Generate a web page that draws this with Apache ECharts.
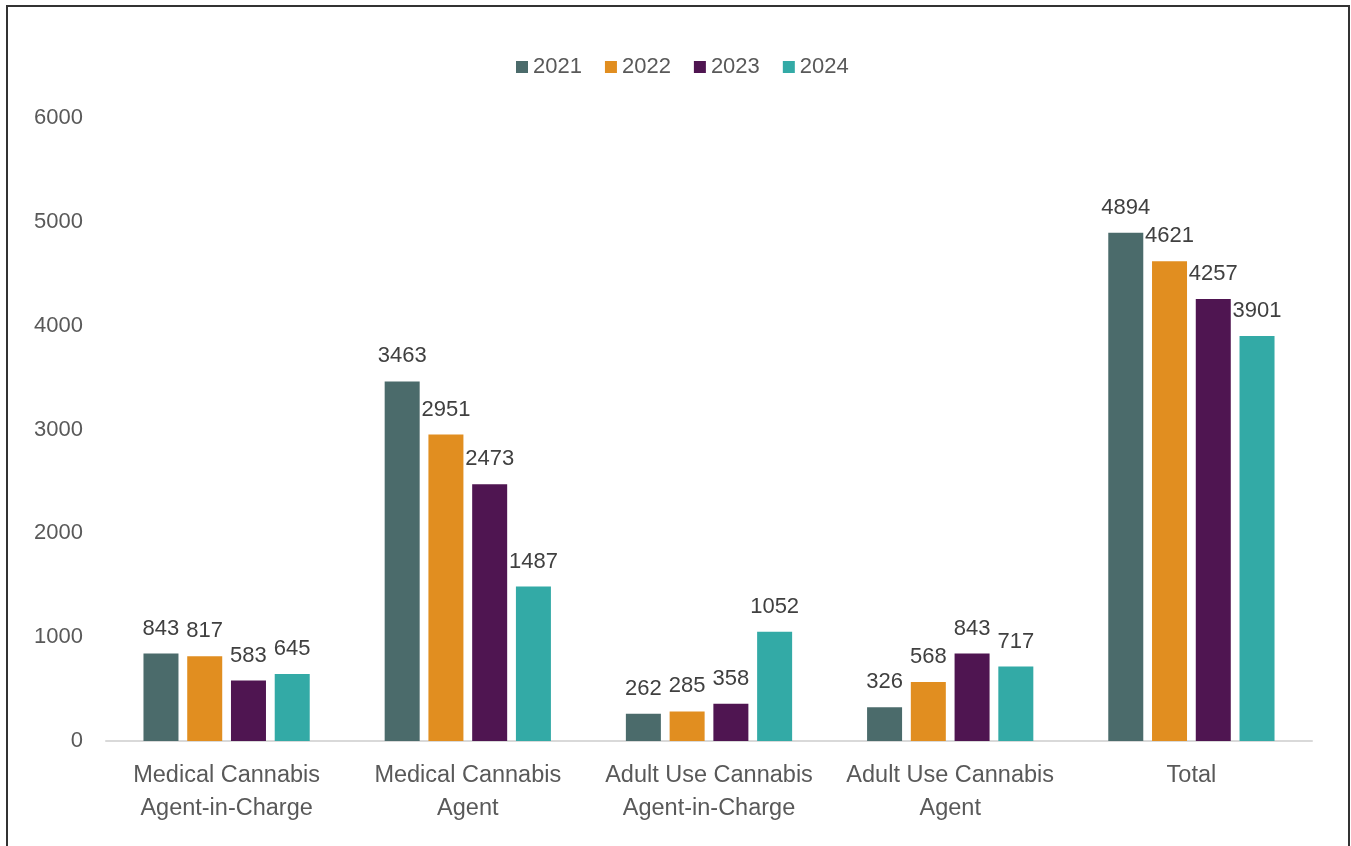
<!DOCTYPE html>
<html>
<head>
<meta charset="utf-8">
<script src="https://cdn.jsdelivr.net/npm/echarts@6/dist/echarts.min.js"></script>
<style>
html,body{margin:0;padding:0;background:#fff;overflow:hidden;}
#frame{position:absolute;left:6px;top:5px;width:1344px;height:900px;border:2px solid #333;border-bottom:none;box-sizing:border-box;}
#chart{position:absolute;left:0;top:0;width:1351px;height:846px;}
</style>
</head>
<body>
<div id="frame"></div>
<div id="chart"></div>
<script>
const categories = ["Medical Cannabis\nAgent-in-Charge", "Medical Cannabis\nAgent", "Adult Use Cannabis\nAgent-in-Charge", "Adult Use Cannabis\nAgent", "Total"];
const years = ["2021", "2022", "2023", "2024"];
const values2021 = [843, 3463, 262, 326, 4894];
const values2022 = [817, 2951, 285, 568, 4621];
const values2023 = [583, 2473, 358, 843, 4257];
const values2024 = [645, 1487, 1052, 717, 3901];
const colors = ["#4b6b6b", "#e18e20", "#4f1551", "#33aaa6"];
const yTicks = [0, 1000, 2000, 3000, 4000, 5000, 6000];

const seriesData = [values2021, values2022, values2023, values2024];
const font = "'Liberation Sans', Arial, sans-serif";

const chart = echarts.init(document.getElementById('chart'), null, {renderer: 'canvas'});
chart.setOption({
  animation: false,
  color: colors,
  textStyle: {fontFamily: font},
  legend: {
    data: years,
    top: 51,
    left: 511,
    itemWidth: 12,
    itemHeight: 12,
    itemGap: 23,
    icon: 'rect',
    textStyle: {fontSize: 22, color: '#595959', fontFamily: font}
  },
  grid: {left: 106, right: 39, top: 118, bottom: 105},
  xAxis: {
    type: 'category',
    data: categories,
    axisLine: {lineStyle: {color: '#d9d9d9', width: 2}},
    axisTick: {show: false},
    axisLabel: {fontSize: 23.5, color: '#595959', lineHeight: 33, margin: 18, fontFamily: font, interval: 0}
  },
  yAxis: {
    type: 'value',
    min: yTicks[0],
    max: yTicks[yTicks.length - 1],
    interval: 1000,
    splitLine: {show: false},
    axisLine: {show: false},
    axisTick: {show: false},
    axisLabel: {fontSize: 22, color: '#595959', margin: 23, fontFamily: font, formatter: v => String(v)}
  },
  series: years.map((y, i) => ({
    name: y,
    type: 'bar',
    data: seriesData[i],
    barWidth: 35,
    barGap: '25%',
    itemStyle: {color: colors[i]},
    label: {show: true, position: 'top', distance: 14, fontSize: 22, color: '#404040', fontFamily: font}
  }))
});
</script>
</body>
</html>
